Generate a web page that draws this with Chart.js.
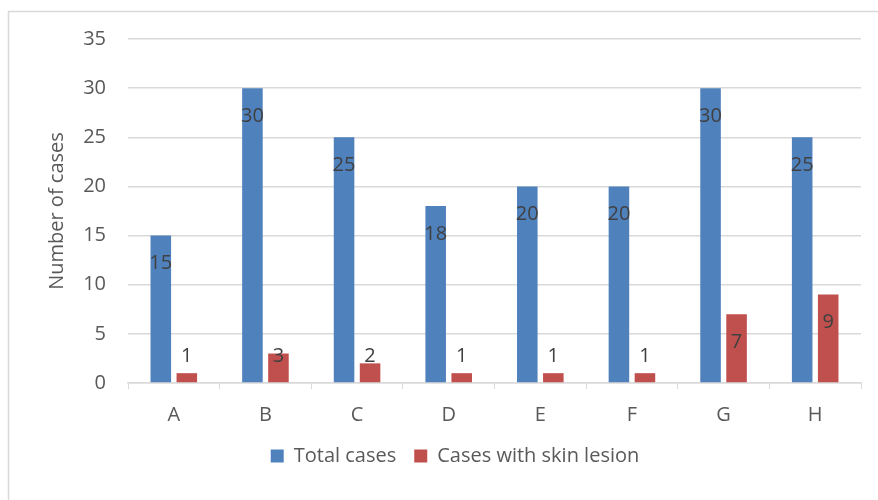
<!DOCTYPE html>
<html>
<head>
<meta charset="utf-8">
<script src="https://cdn.jsdelivr.net/npm/chart.js@4.4.1/dist/chart.umd.min.js"></script>
<style>
  html, body { margin: 0; padding: 0; background: #fff; }
  #wrap { position: relative; width: 878px; height: 500px; }
</style>
</head>
<body>
<div id="wrap"><canvas id="grafico" width="878" height="500"></canvas></div>
<script>
const categorias = ['A', 'B', 'C', 'D', 'E', 'F', 'G', 'H'];
const totalCasos = [15, 30, 25, 18, 20, 20, 30, 25];
const casosLesion = [1, 3, 2, 1, 1, 1, 7, 9];
const ticksY = [0, 5, 10, 15, 20, 25, 30, 35];

const fuente = '"Open Sans", sans-serif';
const gris = '#595959';
const lineaGris = '#d9d9d9';

// borde del grafico y etiquetas de datos estilo Excel
const bordePlugin = {
    id: 'borde',
    beforeDraw(chart) {
        const ctx = chart.ctx;
        ctx.save();
        ctx.fillStyle = '#fff';
        ctx.fillRect(0, 0, chart.width, chart.height);
        ctx.strokeStyle = lineaGris;
        ctx.lineWidth = 1.5;
        ctx.strokeRect(8.5, 11.5, 1000, 1000);
        ctx.restore();
    }
};

const etiquetasPlugin = {
    id: 'etiquetas',
    afterDatasetsDraw(chart) {
        const ctx = chart.ctx;
        ctx.save();
        ctx.font = '20px ' + fuente;
        ctx.fillStyle = '#404040';
        ctx.textAlign = 'center';
        ctx.textBaseline = 'middle';
        chart.data.datasets.forEach((ds, i) => {
            chart.getDatasetMeta(i).data.forEach((bar, j) => {
                const y = Math.min(bar.y + 28, bar.base - 26);
                ctx.fillText(String(ds.data[j]), bar.x, y);
            });
        });
        ctx.restore();
    }
};

new Chart(document.getElementById('grafico'), {
    type: 'bar',
    data: {
        labels: categorias,
        datasets: [
            { label: 'Total cases', data: totalCasos, backgroundColor: '#4f81bd', borderWidth: 0,
              categoryPercentage: 0.568, barPercentage: 0.79 },
            { label: 'Cases with skin lesion', data: casosLesion, backgroundColor: '#c0504d', borderWidth: 0,
              categoryPercentage: 0.568, barPercentage: 0.79 }
        ]
    },
    options: {
        responsive: false,
        animation: false,
        layout: { padding: { left: 49, right: 17, top: 39, bottom: 24 } },
        plugins: {
            tooltip: { enabled: false },
            legend: {
                position: 'bottom',
                labels: {
                    boxWidth: 13, boxHeight: 13, padding: 18,
                    color: gris, font: { family: fuente, size: 20 }
                }
            }
        },
        scales: {
            x: {
                grid: { display: true, drawOnChartArea: false, drawTicks: true, tickLength: 6, color: lineaGris },
                border: { color: lineaGris, width: 1.5 },
                ticks: { color: gris, font: { family: fuente, size: 20 }, padding: 14 },
                afterFit(scale) { scale.height = 45; }
            },
            y: {
                min: 0, max: 35,
                afterBuildTicks(scale) { scale.ticks = ticksY.map(v => ({ value: v })); },
                grid: { color: lineaGris, drawTicks: false, lineWidth: 1.5 },
                border: { display: false },
                ticks: { color: gris, font: { family: fuente, size: 20 }, padding: 22 },
                title: { display: true, text: 'Number of cases', color: gris,
                         font: { family: fuente, size: 20 }, padding: { top: -4, bottom: 0 } },
                afterFit(scale) { scale.width = 79; }
            }
        }
    },
    plugins: [bordePlugin, etiquetasPlugin]
});
</script>
</body>
</html>
